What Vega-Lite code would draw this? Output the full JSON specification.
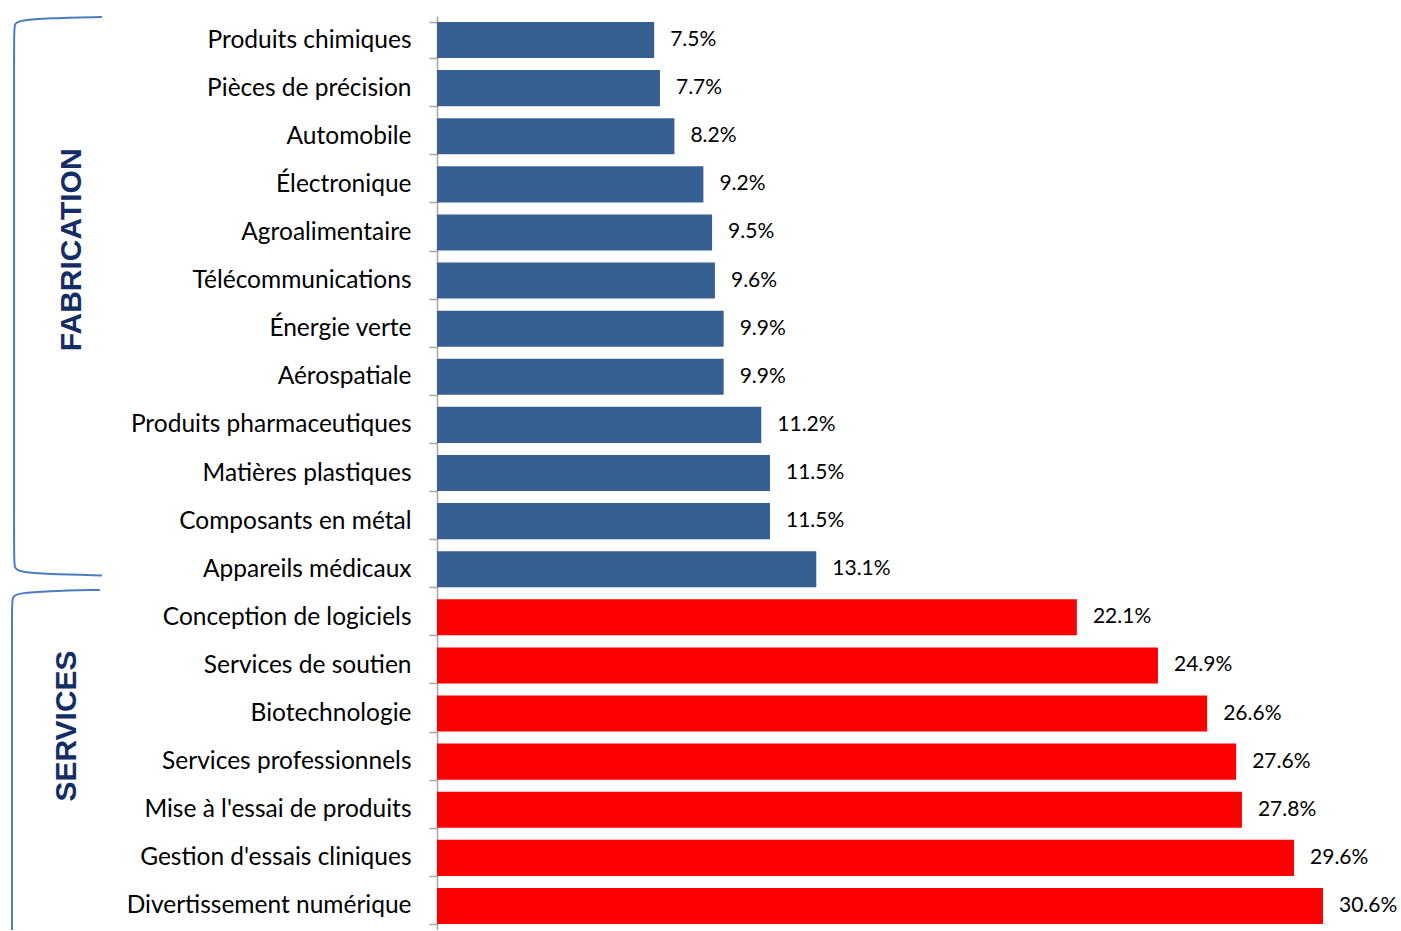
{
  "$schema": "https://vega.github.io/schema/vega-lite/v6.json",
  "padding": {"left": 0, "top": 3, "right": 2, "bottom": 0},
  "background": "white",
  "config": {"view": {"stroke": null}},
  "bounds": "flush",
  "spacing": 333,
  "datasets": {
    "bars": [
      {"cat": "Produits chimiques", "v": 0.075, "group": "FABRICATION"},
      {"cat": "Pièces de précision", "v": 0.077, "group": "FABRICATION"},
      {"cat": "Automobile", "v": 0.082, "group": "FABRICATION"},
      {"cat": "Électronique", "v": 0.092, "group": "FABRICATION"},
      {"cat": "Agroalimentaire", "v": 0.095, "group": "FABRICATION"},
      {"cat": "Télécommunications", "v": 0.096, "group": "FABRICATION"},
      {"cat": "Énergie verte", "v": 0.099, "group": "FABRICATION"},
      {"cat": "Aérospatiale", "v": 0.099, "group": "FABRICATION"},
      {"cat": "Produits pharmaceutiques", "v": 0.112, "group": "FABRICATION"},
      {"cat": "Matières plastiques", "v": 0.115, "group": "FABRICATION"},
      {"cat": "Composants en métal", "v": 0.115, "group": "FABRICATION"},
      {"cat": "Appareils médicaux", "v": 0.131, "group": "FABRICATION"},
      {"cat": "Conception de logiciels", "v": 0.221, "group": "SERVICES"},
      {"cat": "Services de soutien", "v": 0.249, "group": "SERVICES"},
      {"cat": "Biotechnologie", "v": 0.266, "group": "SERVICES"},
      {"cat": "Services professionnels", "v": 0.276, "group": "SERVICES"},
      {"cat": "Mise à l'essai de produits", "v": 0.278, "group": "SERVICES"},
      {"cat": "Gestion d'essais cliniques", "v": 0.296, "group": "SERVICES"},
      {"cat": "Divertissement numérique", "v": 0.306, "group": "SERVICES"}
    ],
    "brackets": [
      {"group": "FABRICATION", "i": 0, "bx": 0.98, "by": 0.02},
      {"group": "FABRICATION", "i": 1, "bx": 0.45, "by": 0.045},
      {"group": "FABRICATION", "i": 2, "bx": 0.2, "by": 0.09},
      {"group": "FABRICATION", "i": 3, "bx": 0.135, "by": 0.15},
      {"group": "FABRICATION", "i": 4, "bx": 0.135, "by": 0.35},
      {"group": "FABRICATION", "i": 5, "bx": 0.135, "by": 11.3},
      {"group": "FABRICATION", "i": 6, "bx": 0.135, "by": 11.48},
      {"group": "FABRICATION", "i": 7, "bx": 0.2, "by": 11.56},
      {"group": "FABRICATION", "i": 8, "bx": 0.45, "by": 11.605},
      {"group": "FABRICATION", "i": 9, "bx": 0.98, "by": 11.63},
      {"group": "SERVICES", "i": 0, "bx": 0.96, "by": 11.93},
      {"group": "SERVICES", "i": 1, "bx": 0.45, "by": 11.955},
      {"group": "SERVICES", "i": 2, "bx": 0.18, "by": 12.0},
      {"group": "SERVICES", "i": 3, "bx": 0.115, "by": 12.06},
      {"group": "SERVICES", "i": 4, "bx": 0.115, "by": 12.3},
      {"group": "SERVICES", "i": 5, "bx": 0.115, "by": 19.6}
    ],
    "groups": [
      {"group": "FABRICATION", "lx": 0.69, "ly": 4.86},
      {"group": "SERVICES", "lx": 0.645, "ly": 14.76}
    ]
  },
  "hconcat": [
    {
      "width": 104,
      "height": 914,
      "layer": [
        {
          "data": {"name": "brackets"},
          "mark": {"type": "line", "interpolate": "basis", "color": "#4A7EBB", "strokeWidth": 2, "clip": true},
          "encoding": {
            "x": {"field": "bx", "type": "quantitative", "scale": {"domain": [0, 1]}, "axis": null},
            "y": {"field": "by", "type": "quantitative", "scale": {"domain": [0, 19], "reverse": true, "nice": false}, "axis": null},
            "detail": {"field": "group"},
            "order": {"field": "i"}
          }
        },
        {
          "data": {"name": "groups"},
          "mark": {"type": "text", "angle": 270, "align": "center", "baseline": "middle", "font": "Liberation Sans", "fontWeight": "bold", "fontSize": 30, "color": "#142D64"},
          "encoding": {
            "x": {"field": "lx", "type": "quantitative", "scale": {"domain": [0, 1]}, "axis": null},
            "y": {"field": "ly", "type": "quantitative", "scale": {"domain": [0, 19], "reverse": true, "nice": false}, "axis": null},
            "text": {"field": "group"}
          }
        }
      ]
    },
    {
      "width": 886,
      "height": 914,
      "data": {"name": "bars"},
      "encoding": {
        "y": {
          "field": "cat", "type": "nominal", "sort": null,
          "scale": {"paddingInner": 0.25, "paddingOuter": 0.125},
          "axis": {
            "title": null, "labelFont": "Lato", "labelFontSize": 24.5, "labelColor": "#000000",
            "tickBand": "extent", "tickSize": 8, "tickWidth": 1.5, "tickColor": "#A6A6A6",
            "domainColor": "#A6A6A6", "domainWidth": 1.5, "labelPadding": 18, "labelLimit": 400
          }
        },
        "x": {"field": "v", "type": "quantitative", "scale": {"domain": [0, 0.306], "nice": false}, "axis": null}
      },
      "layer": [
        {
          "mark": {"type": "bar"},
          "encoding": {
            "color": {"field": "group", "type": "nominal", "scale": {"domain": ["FABRICATION", "SERVICES"], "range": ["#376092", "#FF0000"]}, "legend": null}
          }
        },
        {
          "mark": {"type": "text", "align": "left", "baseline": "middle", "dx": 16, "font": "Lato", "fontSize": 21, "color": "#000000"},
          "encoding": {"text": {"field": "v", "type": "quantitative", "format": ".1%"}}
        }
      ]
    }
  ]
}
